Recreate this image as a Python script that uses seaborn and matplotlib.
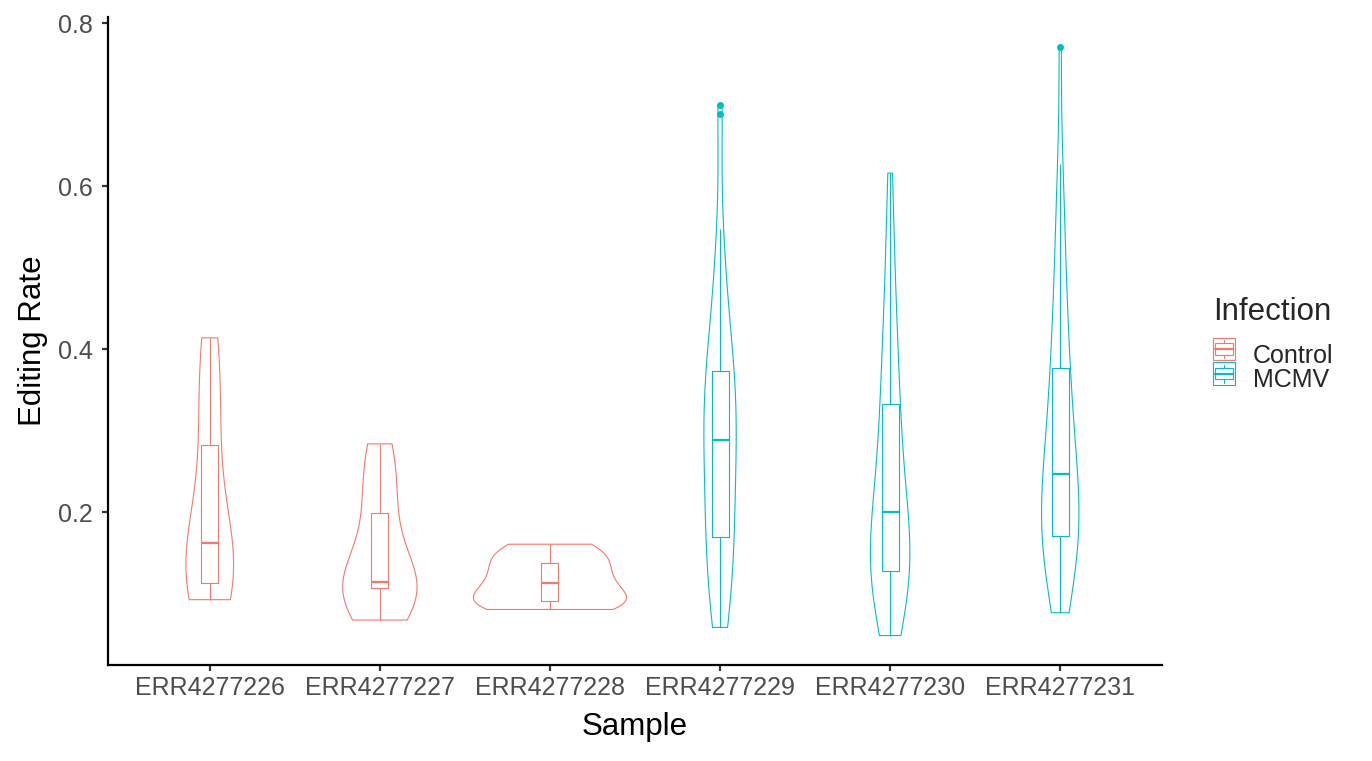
import numpy as np
import pandas as pd
import seaborn as sns
import matplotlib
matplotlib.use("Agg")
import matplotlib.pyplot as plt
from matplotlib.patches import Rectangle
from matplotlib.lines import Line2D
from matplotlib.legend_handler import HandlerBase

# ---------------- data ----------------
samples = ["ERR4277226", "ERR4277227", "ERR4277228",
           "ERR4277229", "ERR4277230", "ERR4277231"]
infection = ["Control", "Control", "Control", "MCMV", "MCMV", "MCMV"]

err226 = [0.093, 0.105, 0.114, 0.140, 0.163, 0.200, 0.283, 0.350, 0.414]
err227 = [0.068, 0.090, 0.107, 0.110, 0.115, 0.150, 0.199, 0.240, 0.284]
err228 = [0.081, 0.085, 0.091, 0.100, 0.113, 0.125, 0.138, 0.150, 0.161]
err229 = [0.059, 0.068, 0.080, 0.093, 0.106, 0.119, 0.132, 0.145, 0.156, 0.164,
          0.170, 0.191, 0.201, 0.211, 0.221, 0.232, 0.242, 0.252, 0.266, 0.278,
          0.289, 0.297, 0.305, 0.314, 0.323, 0.332, 0.340, 0.352, 0.358, 0.366,
          0.373, 0.388, 0.402, 0.418, 0.436, 0.455, 0.478, 0.510, 0.548, 0.688,
          0.700]
err230 = [0.049, 0.058, 0.068, 0.078, 0.088, 0.097, 0.105, 0.112, 0.118, 0.123,
          0.128, 0.135, 0.142, 0.149, 0.156, 0.163, 0.170, 0.178, 0.185, 0.193,
          0.201, 0.212, 0.223, 0.235, 0.247, 0.260, 0.273, 0.287, 0.301, 0.317,
          0.333, 0.350, 0.368, 0.387, 0.407, 0.430, 0.455, 0.485, 0.520, 0.565,
          0.616]
err231 = [0.077, 0.094, 0.108, 0.120, 0.130, 0.139, 0.147, 0.154, 0.160, 0.166,
          0.171, 0.178, 0.186, 0.193, 0.200, 0.208, 0.216, 0.224, 0.231, 0.239,
          0.247, 0.258, 0.269, 0.281, 0.293, 0.305, 0.318, 0.332, 0.346, 0.361,
          0.377, 0.395, 0.414, 0.435, 0.458, 0.483, 0.512, 0.545, 0.585, 0.627,
          0.771]

values = [err226, err227, err228, err229, err230, err231]
palette = {"Control": "#F8766D", "MCMV": "#00BFC4"}

rows = []
for s, inf, vals in zip(samples, infection, values):
    for v in vals:
        rows.append({"Sample": s, "Infection": inf, "Editing Rate": v})
df = pd.DataFrame(rows)

# ---------------- style ----------------
sns.set_theme(style="ticks")
plt.rcParams["font.family"] = ["Liberation Sans", "DejaVu Sans"]

fig = plt.figure(figsize=(13.72, 7.61), dpi=100)
ax = fig.add_axes([107.7 / 1372, 1 - 665 / 761, (1162.3 - 107.7) / 1372, (665 - 17.3) / 761])

lw = 0.8
# violins: one common area normalisation across all samples, then coloured by group
n_before = len(ax.collections)
sns.violinplot(data=df, x="Sample", y="Editing Rate", order=samples,
               color="gray", fill=False, inner=None, cut=0,
               density_norm="area", width=0.9, linewidth=lw, bw_adjust=0.9,
               ax=ax)
for coll, inf in zip(ax.collections[n_before:], infection):
    coll.set_edgecolor(palette[inf])
    coll.set_facecolor("none")

sns.boxplot(data=df, x="Sample", y="Editing Rate", hue="Infection",
            order=samples, hue_order=["Control", "MCMV"], palette=palette,
            fill=False, width=0.1, linewidth=lw, dodge=False, legend=False,
            showcaps=False, whis=1.5,
            medianprops={"linewidth": 1.6},
            flierprops={"marker": "o", "markersize": 4.0},
            ax=ax)
for ln in ax.lines:
    if ln.get_marker() == "o":
        ln.set_markerfacecolor(ln.get_markeredgecolor())

# axes
vmin = min(min(v) for v in values)
vmax = max(max(v) for v in values)
pad = 0.05 * (vmax - vmin)
ax.set_ylim(vmin - pad, vmax + pad)
ax.set_xlim(-0.6, len(samples) - 0.4)
ax.set_yticks([0.2, 0.4, 0.6, 0.8])
ax.set_yticklabels(["0.2", "0.4", "0.6", "0.8"])

sns.despine(ax=ax)
for sp in ["left", "bottom"]:
    ax.spines[sp].set_linewidth(1.6)
    ax.spines[sp].set_color("black")
ax.tick_params(axis="both", length=4.3, width=1.6, color="#333333",
               labelsize=18, labelcolor="#4D4D4D")
ax.tick_params(axis="x", pad=3.5)
ax.tick_params(axis="y", pad=6.5)
ax.set_xlabel("Sample", fontsize=22.5, color="black", labelpad=9)
ax.set_ylabel("Editing Rate", fontsize=22.5, color="black", labelpad=7)
ax.grid(False)


# legend with boxplot-style keys
class BoxKey(HandlerBase):
    def __init__(self, color):
        super().__init__()
        self.color = color

    def create_artists(self, legend, orig_handle, xd, yd, w, h, fontsize, trans):
        c = self.color
        arts = [Rectangle((xd, yd), w, h, fill=False, edgecolor=c, lw=0.8, transform=trans),
                Rectangle((xd + 0.1 * w, yd + 0.25 * h), 0.8 * w, 0.5 * h, fill=False,
                          edgecolor=c, lw=0.8, transform=trans),
                Line2D([xd + 0.1 * w, xd + 0.9 * w], [yd + 0.5 * h] * 2, color=c, lw=1.6, transform=trans),
                Line2D([xd + 0.5 * w] * 2, [yd + 0.1 * h, yd + 0.25 * h], color=c, lw=0.8, transform=trans),
                Line2D([xd + 0.5 * w] * 2, [yd + 0.75 * h, yd + 0.9 * h], color=c, lw=0.8, transform=trans)]
        return arts


h_ctrl = Rectangle((0, 0), 1, 1)
h_mcmv = Rectangle((0, 0), 1, 1)
leg = fig.legend([h_ctrl, h_mcmv], ["Control", "MCMV"], title="Infection",
                 handler_map={h_ctrl: BoxKey(palette["Control"]), h_mcmv: BoxKey(palette["MCMV"])},
                 loc="upper left", bbox_to_anchor=(1208 / 1372, 1 - 292 / 761),
                 frameon=False, fontsize=18, title_fontsize=22.5,
                 handlelength=0.88, handleheight=1.0, handletextpad=0.72,
                 labelspacing=0.0, borderpad=0.2, borderaxespad=0)
leg._legend_box.align = "left"
leg._legend_box.sep = 11.5

fig.savefig("out.png", dpi=100)
